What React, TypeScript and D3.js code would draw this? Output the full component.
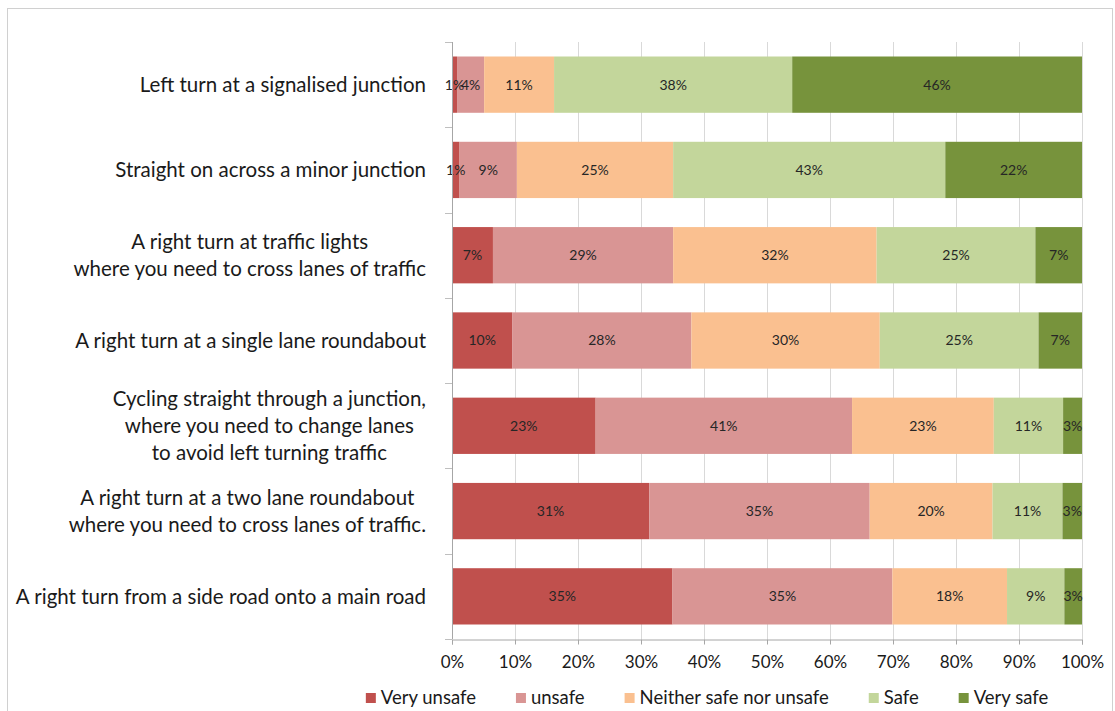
import React, { useEffect, useRef } from 'react';
import * as d3 from 'd3';

const categories = [
  'Left turn at a signalised junction',
  'Straight on across a minor junction',
  'A right turn at traffic lights\nwhere you need to cross lanes of traffic',
  'A right turn at a single lane roundabout',
  'Cycling straight through a junction,\nwhere you need to change lanes\nto avoid left turning traffic',
  'A right turn at a two lane roundabout\nwhere you need to cross lanes of traffic.',
  'A right turn from a side road onto a main road',
];

const seriesNames = ['Very unsafe', 'unsafe', 'Neither safe nor unsafe', 'Safe', 'Very safe'];
const seriesColors = ['#C0504D', '#D99594', '#FAC090', '#C3D69B', '#77933C'];

const veryUnsafe = [0.8, 1.2, 6.5, 9.6, 22.8, 31.3, 35.0];
const unsafe = [4.3, 9.1, 28.6, 28.4, 40.7, 35.0, 34.9];
const neither = [11.1, 24.8, 32.3, 29.9, 22.5, 19.5, 18.2];
const safe = [37.8, 43.2, 25.2, 25.2, 11.0, 11.1, 9.1];
const verySafe = [46.0, 21.7, 7.4, 6.9, 3.0, 3.1, 2.8];

const xTicks = [0, 10, 20, 30, 40, 50, 60, 70, 80, 90, 100];

const FONT = 'Lato, "Open Sans", sans-serif';

function StackedBarChart({ width = 1115, height = 711 }) {
  const svgRef = useRef<SVGSVGElement>(null);

  useEffect(() => {
    const svg = d3.select(svgRef.current);
    svg.selectAll('*').remove();

    const left = 452, right = 1082, top = 42, bottom = 639;

    const rows = categories.map((c, i) => ({
      cat: c,
      'Very unsafe': veryUnsafe[i],
      unsafe: unsafe[i],
      'Neither safe nor unsafe': neither[i],
      Safe: safe[i],
      'Very safe': verySafe[i],
    }));

    const x = d3.scaleLinear().domain([0, 100]).range([left, right]);
    const y = d3.scaleBand()
      .domain(categories)
      .range([top, bottom])
      .paddingInner(0.34)
      .paddingOuter(0.17);

    const color = d3.scaleOrdinal<string, string>().domain(seriesNames).range(seriesColors);

    // chart frame
    svg.append('rect')
      .attr('x', 7.5).attr('y', 8.5)
      .attr('width', 1105).attr('height', 720)
      .attr('fill', 'white')
      .attr('stroke', '#d0d0d0');

    // gridlines
    svg.append('g')
      .selectAll('line')
      .data(xTicks.slice(1))
      .join('line')
      .attr('x1', d => x(d) + 0.5).attr('x2', d => x(d) + 0.5)
      .attr('y1', top).attr('y2', bottom)
      .attr('stroke', '#d9d9d9');

    // bars
    const stacked = d3.stack<any>().keys(seriesNames)(rows);
    svg.append('g')
      .selectAll('g')
      .data(stacked)
      .join('g')
      .attr('fill', d => color(d.key))
      .selectAll('rect')
      .data(d => d)
      .join('rect')
      .attr('x', d => x(d[0]))
      .attr('y', d => y(d.data.cat)!)
      .attr('width', d => x(d[1]) - x(d[0]))
      .attr('height', y.bandwidth());

    // data labels, drawn above all bars
    svg.append('g')
      .selectAll('g')
      .data(stacked)
      .join('g')
      .selectAll('text')
      .data(d => d)
      .join('text')
      .attr('x', d => (x(d[0]) + x(d[1])) / 2)
      .attr('y', d => y(d.data.cat)! + y.bandwidth() / 2)
      .attr('dy', '0.35em')
      .attr('text-anchor', 'middle')
      .attr('fill', '#262626')
      .style('font-family', FONT)
      .style('font-size', '14px')
      .text(d => Math.round(d[1] - d[0]) + '%');

    // left axis line with ticks at band boundaries
    const step = y.step();
    const bounds = d3.range(categories.length + 1).map(i => top + i * step);
    const yAxis = svg.append('g');
    yAxis.append('line')
      .attr('x1', left + 0.5).attr('x2', left + 0.5)
      .attr('y1', top).attr('y2', bottom)
      .attr('stroke', '#a6a6a6');
    yAxis.selectAll('line.tick')
      .data(bounds)
      .join('line')
      .attr('class', 'tick')
      .attr('x1', left - 7).attr('x2', left)
      .attr('y1', d => Math.round(d) + 0.5).attr('y2', d => Math.round(d) + 0.5)
      .attr('stroke', '#bfbfbf');

    // category labels: lines centred within a right-aligned block
    const labelRight = 426;
    const lineH = 27;
    categories.forEach(cat => {
      const lines = cat.split('\n');
      const g = svg.append('g');
      const texts = g.selectAll('text')
        .data(lines)
        .join('text')
        .attr('text-anchor', 'middle')
        .attr('dy', '0.35em')
        .attr('fill', '#1a1a1a')
        .style('font-family', FONT)
        .style('font-size', '20.5px')
        .text(d => d);
      let maxW = 0;
      texts.each(function () {
        maxW = Math.max(maxW, (this as SVGTextElement).getComputedTextLength());
      });
      const cx = labelRight - maxW / 2;
      const cy = y(cat)! + y.bandwidth() / 2;
      texts
        .attr('x', cx)
        .attr('y', (_, i) => cy + (i - (lines.length - 1) / 2) * lineH);
    });

    // bottom axis
    const xAxis = svg.append('g')
      .attr('transform', `translate(0,${bottom + 0.5})`)
      .call(d3.axisBottom(x).tickValues(xTicks).tickSize(5).tickPadding(11).tickFormat(d => d + '%'));
    xAxis.select('.domain').attr('stroke', '#a6a6a6');
    xAxis.selectAll('.tick line').attr('stroke', '#a6a6a6');
    xAxis.selectAll('.tick text')
      .attr('fill', '#1a1a1a')
      .style('font-family', FONT)
      .style('font-size', '17px');

    // legend
    const legend = svg.append('g').attr('transform', 'translate(0,698)');
    const items = legend.selectAll('g')
      .data(seriesNames)
      .join('g');
    items.append('rect')
      .attr('width', 10).attr('height', 10)
      .attr('y', -5)
      .attr('fill', d => color(d));
    items.append('text')
      .attr('x', 15)
      .attr('dy', '0.35em')
      .attr('fill', '#1a1a1a')
      .style('font-family', FONT)
      .style('font-size', '18.5px')
      .text(d => d);
    const widths: number[] = [];
    items.select('text').each(function () {
      widths.push(15 + (this as SVGTextElement).getComputedTextLength());
    });
    const gap = 40;
    const total = d3.sum(widths) + gap * (widths.length - 1);
    let cursor = 707 - total / 2;
    items.attr('transform', (_, i) => {
      const tx = cursor;
      cursor += widths[i] + gap;
      return `translate(${tx},0)`;
    });
  }, [width, height]);

  return (
    <svg
      ref={svgRef}
      width={width}
      height={height}
      style={{ position: 'absolute', left: 0, top: 0, background: 'white' }}
    />
  );
}

export default function App() {
  return <StackedBarChart />;
}
